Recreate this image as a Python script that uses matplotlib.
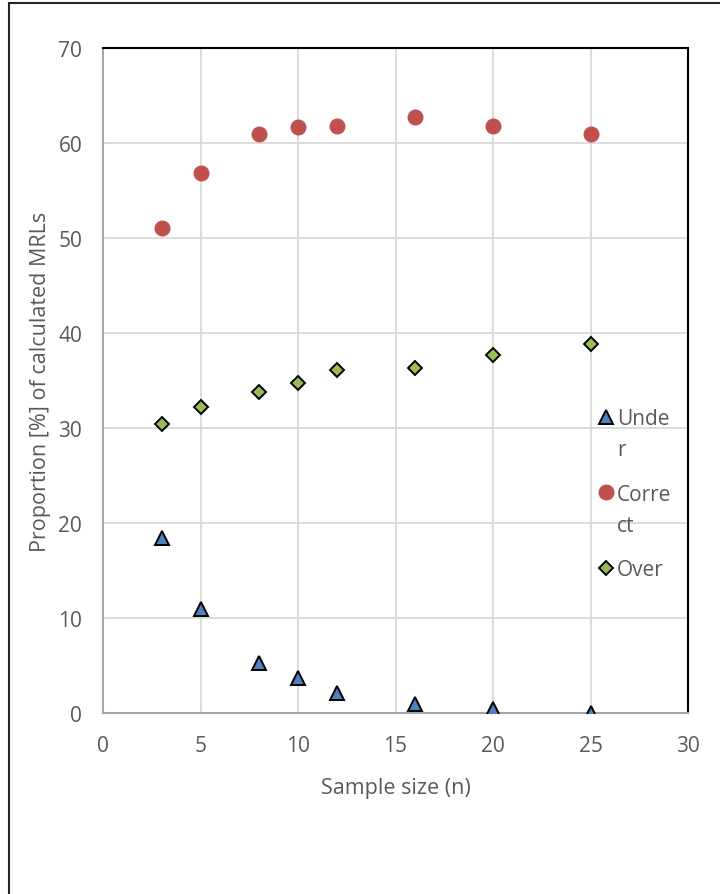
import matplotlib.pyplot as plt
from matplotlib.patches import Rectangle

# datos
sample_size = [3, 5, 8, 10, 12, 16, 20, 25]
under = [18.4, 10.9, 5.3, 3.7, 2.1, 1.0, 0.4, 0.0]
correct = [51.1, 56.8, 61.0, 61.7, 61.8, 62.7, 61.8, 61.0]
over = [30.4, 32.2, 33.8, 34.7, 36.1, 36.3, 37.7, 38.8]

x_ticks = [0, 5, 10, 15, 20, 25, 30]
y_ticks = [0, 10, 20, 30, 40, 50, 60, 70]

# etiquetas de la leyenda (cortadas como en el original)
legend_first = ['Unde', 'Corre', 'Over']
legend_rest = ['r', 'ct', '']

plt.rcParams['font.family'] = ['Open Sans', 'DejaVu Sans']
gray = '#595959'

fig = plt.figure(figsize=(7.2, 8.95), dpi=100)
ax = fig.add_axes([103 / 720, 1 - 714 / 895, 585 / 720, 665 / 895])

h1, = ax.plot(sample_size, under, linestyle='none', marker='^', markersize=10.5,
              markerfacecolor='#4f81bd', markeredgecolor='black', markeredgewidth=1.4,
              zorder=3)
h2, = ax.plot(sample_size, correct, linestyle='none', marker='o', markersize=10.5,
              markerfacecolor='#c0504d', markeredgecolor='#c0504d', zorder=3)
h3, = ax.plot(sample_size, over, linestyle='none', marker='D', markersize=7.5,
              markerfacecolor='#9bbb59', markeredgecolor='black', markeredgewidth=1.4,
              zorder=3)

ax.set_xlim(0, 30)
ax.set_ylim(0, 70)
ax.set_xticks(x_ticks)
ax.set_yticks(y_ticks)
ax.tick_params(axis='x', length=0, labelsize=15, labelcolor=gray, pad=16)
ax.tick_params(axis='y', length=0, labelsize=15, labelcolor=gray, pad=15)
ax.grid(True, color='#d9d9d9', linewidth=1.3)
ax.set_axisbelow(True)

for side in ['top', 'right']:
    ax.spines[side].set_color('black')
    ax.spines[side].set_linewidth(1.5)
for side in ['left', 'bottom']:
    ax.spines[side].set_color('#a6a6a6')
    ax.spines[side].set_linewidth(1.5)

ax.set_xlabel('Sample size (n)', fontsize=15.5, color=gray, labelpad=15)
ax.set_ylabel('Proportion [%] of calculated MRLs', fontsize=15.5, color=gray, labelpad=5)

leg = ax.legend([h1, h2, h3], legend_first, loc='upper left',
                bbox_to_anchor=(493 / 585, 1 - (409 - 49) / 665),
                frameon=False, fontsize=15, labelcolor=gray, handletextpad=0.0,
                handlelength=1.0, labelspacing=2.62, borderaxespad=0, borderpad=0)

# segunda linea de cada etiqueta (se dibuja despues de la leyenda)
for t, rest in zip(leg.get_texts(), legend_rest):
    if rest:
        ax.annotate(rest, xy=(0, 1), xycoords=t, xytext=(0, -22.5),
                    textcoords='offset points', va='top', ha='left',
                    fontsize=15, color=gray, annotation_clip=False, zorder=10)

# marco exterior de la figura
fig.patches.append(Rectangle((9 / 720, -0.01), 1.0, 1 - 4 / 895 + 0.01,
                             transform=fig.transFigure, fill=False,
                             edgecolor='#262626', linewidth=1.5))

fig.savefig('out.png', dpi=100)
